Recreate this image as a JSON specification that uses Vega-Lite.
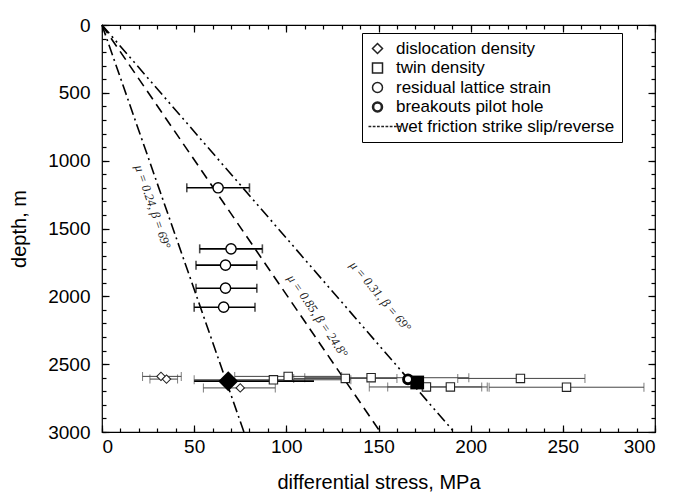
{
  "$schema": "https://vega.github.io/schema/vega-lite/v6.json",
  "width": 553,
  "height": 407,
  "autosize": {"type": "none"},
  "padding": {"left": 102, "top": 25, "right": 33, "bottom": 60},
  "background": "white",
  "config": {
    "view": {"stroke": "black", "strokeWidth": 1.2},
    "axis": {
      "grid": false, "domain": false, "tickColor": "black", "tickWidth": 1.2,
      "labelColor": "black", "titleColor": "black",
      "labelFont": "Liberation Sans", "titleFont": "Liberation Sans",
      "labelFontSize": 19, "titleFontSize": 20, "titleFontWeight": "normal"
    }
  },
  "datasets": {
    "lines": [
      {"line": "a", "stress": 0, "depth": 0}, {"line": "a", "stress": 77, "depth": 3000},
      {"line": "b", "stress": 0, "depth": 0}, {"line": "b", "stress": 151, "depth": 3000},
      {"line": "c", "stress": 0, "depth": 0}, {"line": "c", "stress": 191, "depth": 3000}
    ],
    "resid": [
      {"series": "residual lattice strain", "stress": 63, "depth": 1200, "lo": 46, "hi": 80},
      {"series": "residual lattice strain", "stress": 70, "depth": 1650, "lo": 53, "hi": 87},
      {"series": "residual lattice strain", "stress": 67, "depth": 1770, "lo": 51, "hi": 84},
      {"series": "residual lattice strain", "stress": 67, "depth": 1940, "lo": 51, "hi": 84},
      {"series": "residual lattice strain", "stress": 66, "depth": 2080, "lo": 50, "hi": 83}
    ],
    "cluster": [
      {"series": "dislocation density", "stress": 32, "depth": 2590, "lo": 22, "hi": 43},
      {"series": "dislocation density", "stress": 35, "depth": 2610, "lo": 26, "hi": 41},
      {"series": "dislocation density", "stress": 75, "depth": 2675, "lo": 55, "hi": 94},
      {"series": "twin density", "stress": 93, "depth": 2615, "lo": 50, "hi": 135},
      {"series": "twin density", "stress": 101, "depth": 2590, "lo": 72, "hi": 130},
      {"series": "twin density", "stress": 132, "depth": 2605, "lo": 104, "hi": 160},
      {"series": "twin density", "stress": 146, "depth": 2600, "lo": 110, "hi": 199},
      {"series": "twin density", "stress": 176, "depth": 2668, "lo": 145, "hi": 206},
      {"series": "twin density", "stress": 189, "depth": 2668, "lo": 155, "hi": 209},
      {"series": "twin density", "stress": 227, "depth": 2605, "lo": 193, "hi": 262},
      {"series": "twin density", "stress": 252, "depth": 2670, "lo": 210, "hi": 294}
    ],
    "breakouts": [
      {"series": "breakouts pilot hole", "stress": 166, "depth": 2612}
    ],
    "meanDiamond": [{"stress": 68.5, "depth": 2625, "lo": 50, "hi": 115}],
    "meanSquare": [{"stress": 171, "depth": 2635}]
  },
  "layer": [
    {
      "data": {"name": "lines"},
      "mark": {"type": "line", "color": "black", "strokeWidth": 1.6},
      "encoding": {
        "x": {"field": "stress", "type": "quantitative",
              "scale": {"domain": [0, 300], "nice": false, "zero": false},
              "axis": {"orient": "bottom", "values": [0, 50, 100, 150, 200, 250, 300], "tickSize": -7, "labelPadding": 12, "title": "differential stress, MPa", "titlePadding": 16}},
        "y": {"field": "depth", "type": "quantitative",
              "scale": {"domain": [0, 3000], "reverse": true, "nice": false, "zero": false},
              "axis": {"orient": "left", "values": [0, 500, 1000, 1500, 2000, 2500, 3000], "format": "d", "tickSize": -7, "labelPadding": 19, "title": "depth, m", "titlePadding": 18}},
        "detail": {"field": "line", "type": "nominal"},
        "strokeDash": {"field": "line", "type": "nominal",
                       "scale": {"domain": ["a", "b", "c"], "range": [[11, 4, 2, 4], [10, 6], [11, 4, 2, 4, 2, 4]]},
                       "legend": null}
      }
    },
    {
      "data": {"values": [{"stress": 27.5, "depth": 1340, "txt": "μ = 0.24, β = 69°"}]},
      "mark": {"type": "text", "angle": 71, "font": "Liberation Serif", "fontStyle": "italic", "fontSize": 12.5, "color": "#222"},
      "encoding": {
        "x": {"field": "stress", "type": "quantitative",
              "axis": {"orient": "bottom", "values": [0,10,20,30,40,50,60,70,80,90,100,110,120,130,140,150,160,170,180,190,200,210,220,230,240,250,260,270,280,290,300], "tickSize": -4, "labels": false, "title": null}},
        "y": {"field": "depth", "type": "quantitative",
              "axis": {"orient": "left", "values": [0,100,200,300,400,500,600,700,800,900,1000,1100,1200,1300,1400,1500,1600,1700,1800,1900,2000,2100,2200,2300,2400,2500,2600,2700,2800,2900,3000], "tickSize": -4, "labels": false, "title": null}},
        "text": {"field": "txt"}
      }
    },
    {
      "data": {"values": [{"stress": 117, "depth": 2145, "txt": "μ = 0.85, β = 24.8°"}]},
      "mark": {"type": "text", "angle": 55.7, "font": "Liberation Serif", "fontStyle": "italic", "fontSize": 12.5, "color": "#222"},
      "encoding": {
        "x": {"field": "stress", "type": "quantitative",
              "axis": {"orient": "top", "values": [0, 50, 100, 150, 200, 250, 300], "tickSize": -7, "labels": false, "title": null}},
        "y": {"field": "depth", "type": "quantitative",
              "axis": {"orient": "right", "values": [0, 500, 1000, 1500, 2000, 2500, 3000], "tickSize": -7, "labels": false, "title": null}},
        "text": {"field": "txt"}
      }
    },
    {
      "data": {"values": [{"stress": 151, "depth": 2000, "txt": "μ = 0.31, β = 69°"}]},
      "mark": {"type": "text", "angle": 50, "font": "Liberation Serif", "fontStyle": "italic", "fontSize": 12.5, "color": "#222"},
      "encoding": {
        "x": {"field": "stress", "type": "quantitative",
              "axis": {"orient": "top", "values": [0,10,20,30,40,50,60,70,80,90,100,110,120,130,140,150,160,170,180,190,200,210,220,230,240,250,260,270,280,290,300], "tickSize": -4, "labels": false, "title": null}},
        "y": {"field": "depth", "type": "quantitative",
              "axis": {"orient": "right", "values": [0,100,200,300,400,500,600,700,800,900,1000,1100,1200,1300,1400,1500,1600,1700,1800,1900,2000,2100,2200,2300,2400,2500,2600,2700,2800,2900,3000], "tickSize": -4, "labels": false, "title": null}},
        "text": {"field": "txt"}
      }
    },
    {
      "data": {"name": "cluster"},
      "mark": {"type": "rule", "color": "#444", "strokeWidth": 1},
      "encoding": {
        "x": {"field": "lo", "type": "quantitative", "axis": null},
        "x2": {"field": "hi"},
        "y": {"field": "depth", "type": "quantitative", "axis": null}
      }
    },
    {
      "data": {"name": "cluster"},
      "mark": {"type": "tick", "orient": "vertical", "color": "#444", "thickness": 1, "size": 9},
      "encoding": {
        "x": {"field": "lo", "type": "quantitative", "axis": null},
        "y": {"field": "depth", "type": "quantitative", "axis": null}
      }
    },
    {
      "data": {"name": "cluster"},
      "mark": {"type": "tick", "orient": "vertical", "color": "#444", "thickness": 1, "size": 9},
      "encoding": {
        "x": {"field": "hi", "type": "quantitative", "axis": null},
        "y": {"field": "depth", "type": "quantitative", "axis": null}
      }
    },
    {
      "data": {"name": "meanDiamond"},
      "mark": {"type": "rule", "color": "black", "strokeWidth": 1.6},
      "encoding": {
        "x": {"field": "lo", "type": "quantitative", "axis": null},
        "x2": {"field": "hi"},
        "y": {"field": "depth", "type": "quantitative", "axis": null}
      }
    },
    {
      "data": {"name": "resid"},
      "mark": {"type": "rule", "color": "black", "strokeWidth": 1.6},
      "encoding": {
        "x": {"field": "lo", "type": "quantitative", "axis": null},
        "x2": {"field": "hi"},
        "y": {"field": "depth", "type": "quantitative", "axis": null}
      }
    },
    {
      "data": {"name": "resid"},
      "mark": {"type": "tick", "orient": "vertical", "color": "black", "thickness": 1.6, "size": 9},
      "encoding": {
        "x": {"field": "lo", "type": "quantitative", "axis": null},
        "y": {"field": "depth", "type": "quantitative", "axis": null}
      }
    },
    {
      "data": {"name": "resid"},
      "mark": {"type": "tick", "orient": "vertical", "color": "black", "thickness": 1.6, "size": 9},
      "encoding": {
        "x": {"field": "hi", "type": "quantitative", "axis": null},
        "y": {"field": "depth", "type": "quantitative", "axis": null}
      }
    },
    {
      "data": {"name": "cluster"},
      "mark": {"type": "point", "filled": false, "color": "#222", "fill": "white", "fillOpacity": 1, "strokeWidth": 1.1, "size": 70},
      "encoding": {
        "x": {"field": "stress", "type": "quantitative", "axis": null},
        "y": {"field": "depth", "type": "quantitative", "axis": null},
        "shape": {"field": "series", "type": "nominal",
                  "scale": {"domain": ["dislocation density", "twin density", "residual lattice strain", "breakouts pilot hole", "wet friction strike slip/reverse"],
                            "range": ["diamond", "square", "circle",
                                      "M1,0A1,1 0 1,1 -1,0A1,1 0 1,1 1,0ZM0.78,0A0.78,0.78 0 1,1 -0.78,0A0.78,0.78 0 1,1 0.78,0Z",
                                      "M-1.8,0H-1.25M-0.95,0H-0.4M-0.1,0H0.45M0.75,0H1.3M1.6,0H2.15M2.45,0H3M3.3,0H3.85M4.15,0H4.6"]},
                  "legend": {
                    "title": null, "orient": "none", "legendX": 260, "legendY": 8,
                    "strokeColor": "black", "padding": 7, "fillColor": "white",
                    "labelFont": "Liberation Sans", "labelFontSize": 17, "labelColor": "black", "labelLimit": 0,
                    "rowPadding": 1.5, "labelOffset": 10
                  }}
      }
    },
    {
      "data": {"name": "resid"},
      "mark": {"type": "point", "filled": false, "color": "black", "fill": "white", "fillOpacity": 1, "strokeWidth": 1.4, "size": 105},
      "encoding": {
        "x": {"field": "stress", "type": "quantitative", "axis": null},
        "y": {"field": "depth", "type": "quantitative", "axis": null},
        "shape": {"field": "series", "type": "nominal"}
      }
    },
    {
      "data": {"name": "meanDiamond"},
      "mark": {"type": "point", "shape": "diamond", "filled": true, "color": "black", "size": 400, "opacity": 1},
      "encoding": {
        "x": {"field": "stress", "type": "quantitative", "axis": null},
        "y": {"field": "depth", "type": "quantitative", "axis": null}
      }
    },
    {
      "data": {"name": "meanSquare"},
      "mark": {"type": "point", "shape": "square", "filled": true, "color": "black", "size": 190, "opacity": 1},
      "encoding": {
        "x": {"field": "stress", "type": "quantitative", "axis": null},
        "y": {"field": "depth", "type": "quantitative", "axis": null}
      }
    },
    {
      "data": {"name": "breakouts"},
      "mark": {"type": "point", "filled": false, "color": "black", "fill": "white", "fillOpacity": 1, "strokeWidth": 1.8, "size": 100},
      "encoding": {
        "x": {"field": "stress", "type": "quantitative", "axis": null},
        "y": {"field": "depth", "type": "quantitative", "axis": null},
        "shape": {"field": "series", "type": "nominal"}
      }
    }
  ],
  "resolve": {"axis": {"x": "independent", "y": "independent"}}
}
